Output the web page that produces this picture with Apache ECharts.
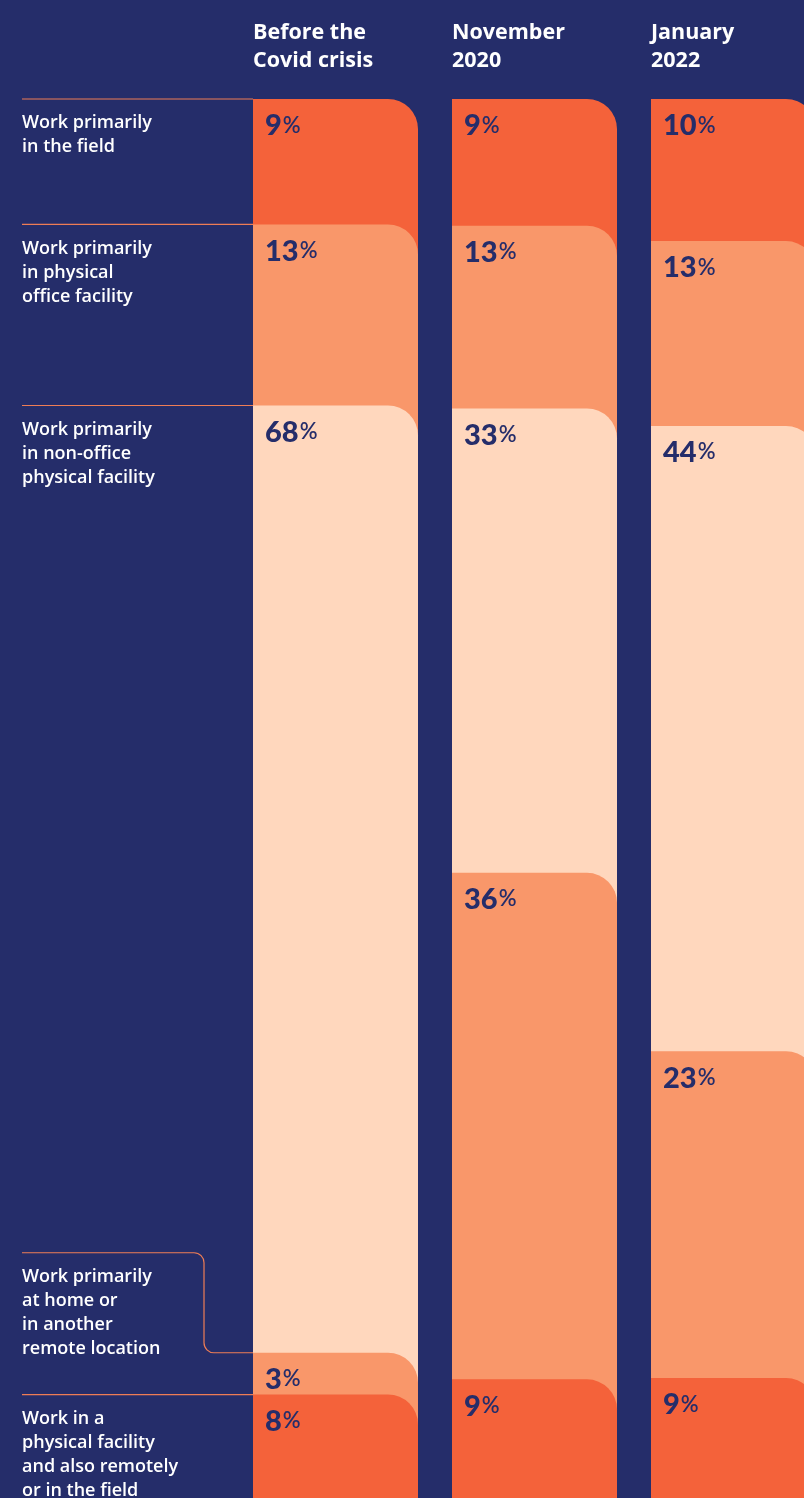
<!DOCTYPE html>
<html>
<head>
<meta charset="utf-8">
<script src="https://cdn.jsdelivr.net/npm/echarts@6/dist/echarts.min.js"></script>
<style>
  html, body { margin: 0; padding: 0; background: #252D6A; }
  #chart { width: 804px; height: 1498px; }
</style>
</head>
<body>
<div id="chart"></div>
<script>
// Survey periods (column headers)
const periods = ['Before the\nCovid crisis', 'November\n2020', 'January\n2022'];

// Work arrangements (row labels), top to bottom
const workModes = [
  'Work primarily\nin the field',
  'Work primarily\nin physical\noffice facility',
  'Work primarily\nin non-office\nphysical facility',
  'Work primarily\nat home or\nin another\nremote location',
  'Work in a\nphysical facility\nand also remotely\nor in the field'
];

// Share of respondents (%) per arrangement, one array per period
const beforeCovid = [9, 13, 68, 3, 8];
const november2020 = [9, 13, 33, 36, 9];
const january2022 = [10, 13, 44, 23, 9];

const modeColors = ['#F4623A', '#F9976A', '#FFD7BD', '#F9976A', '#F4623A'];

const NAVY = '#252D6A';
const TEXT_FONT = '"Open Sans", Lato, sans-serif';
const NUM_FONT = 'Lato, "Open Sans", sans-serif';
const BAR_RATIO = 165 / 199;
const CORNER = 30;

// Each column is a 100% stack: segment start = cumulative share / column total
const columns = [beforeCovid, november2020, january2022];
const segments = [];
columns.forEach((vals, c) => {
  const total = vals.reduce((a, b) => a + b, 0);
  let cum = 0;
  vals.forEach((v, m) => {
    segments.push([c, cum / total, v, m]);
    cum += v;
  });
});

const pctRich = {
  n: { fontFamily: NUM_FONT, fontWeight: 900, fontSize: 29, fill: NAVY, lineHeight: 30 },
  p: { fontFamily: NUM_FONT, fontWeight: 600, fontSize: 22, fill: NAVY, lineHeight: 30, padding: [0, 0, 1, 1] }
};

// A segment runs from its start down past the column foot, so the next one
// (drawn later) overlaps it and its rounded corner reveals the colour above.
function renderSegment(params, api) {
  const c = api.value(0);
  const start = api.value(1);
  const v = api.value(2);
  const m = api.value(3);
  const top = api.coord([c, start]);
  const foot = api.coord([c, 1]);
  const w = api.size([1, 0])[0] * BAR_RATIO;
  const x = top[0] - w / 2;
  return {
    type: 'group',
    children: [
      {
        type: 'rect',
        shape: { x: x, y: top[1], width: w, height: foot[1] - top[1] + 40, r: [0, CORNER, 0, 0] },
        style: { fill: modeColors[m] }
      },
      {
        type: 'text',
        x: x + 12,
        y: top[1] + 27,
        style: {
          text: '{n|' + v + '}{p|%}',
          rich: pctRich,
          fill: NAVY,
          align: 'left',
          verticalAlign: 'middle'
        }
      }
    ]
  };
}

// Row labels on the left with leader lines to the first column
function renderMode(params, api) {
  const start = api.value(1);
  const m = api.value(3);
  const next = m + 1 < workModes.length ? segments[m + 1][1] : 1;
  const top = api.coord([0, start]);
  const nextTop = api.coord([0, next]);
  const w = api.size([1, 0])[0] * BAR_RATIO;
  const barLeft = top[0] - w / 2;
  const x0 = 22;
  const y = top[1];
  const lines = workModes[m].split('\n').length;
  const needed = lines * 24 + 8;
  const children = [];
  let textTop = y;
  if (nextTop[1] - y < needed && m + 1 < workModes.length) {
    // too short for its label: lift the label and bend the leader down to the segment
    const lift = 100;
    const y0 = y - lift;
    const bx = 204;
    const r = 10;
    children.push({
      type: 'path',
      shape: {
        pathData: 'M' + x0 + ',' + y0 + ' L' + (bx - r) + ',' + y0 +
          ' A' + r + ',' + r + ' 0 0 1 ' + bx + ',' + (y0 + r) +
          ' L' + bx + ',' + (y - r) +
          ' A' + r + ',' + r + ' 0 0 0 ' + (bx + r) + ',' + y +
          ' L' + barLeft + ',' + y
      },
      style: { fill: 'none', stroke: '#EE7D55', lineWidth: 1.2 }
    });
    textTop = y0;
  } else {
    children.push({
      type: 'line',
      shape: { x1: x0, y1: y, x2: barLeft, y2: y },
      style: { stroke: '#EE7D55', lineWidth: 1.2 }
    });
  }
  children.push({
    type: 'text',
    x: x0,
    y: textTop + 12,
    style: {
      text: workModes[m],
      fill: '#FFFFFF',
      fontFamily: TEXT_FONT,
      fontWeight: 600,
      fontSize: 18,
      lineHeight: 24,
      align: 'left',
      verticalAlign: 'top'
    }
  });
  return { type: 'group', children: children };
}

const chart = echarts.init(document.getElementById('chart'), null, { renderer: 'canvas' });
chart.setOption({
  backgroundColor: NAVY,
  animation: false,
  grid: { left: 236, width: 597, top: 99, height: 1407, outerBoundsMode: 'none', containLabel: false },
  xAxis: {
    type: 'category',
    data: periods,
    position: 'top',
    axisLine: { show: false },
    axisTick: { show: false },
    splitLine: { show: false },
    axisLabel: {
      interval: 0,
      margin: 24,
      hideOverlap: false,
      formatter: (v) => v.split('\n').map((s) => '{h|' + s + '}').join('\n'),
      rich: {
        h: {
          width: 165,
          align: 'left',
          color: '#FFFFFF',
          fontFamily: TEXT_FONT,
          fontWeight: 700,
          fontSize: 21.5,
          lineHeight: 28
        }
      }
    }
  },
  yAxis: {
    type: 'value',
    min: 0,
    max: 1,
    inverse: true,
    show: false,
    splitLine: { show: false }
  },
  series: [
    {
      type: 'custom',
      renderItem: renderSegment,
      data: segments,
      clip: false,
      encode: { x: 0, y: 1 },
      z: 2
    },
    {
      type: 'custom',
      renderItem: renderMode,
      data: segments.filter((s) => s[0] === 0),
      clip: false,
      encode: { x: 0, y: 1 },
      z: 3
    }
  ]
});
</script>
</body>
</html>
